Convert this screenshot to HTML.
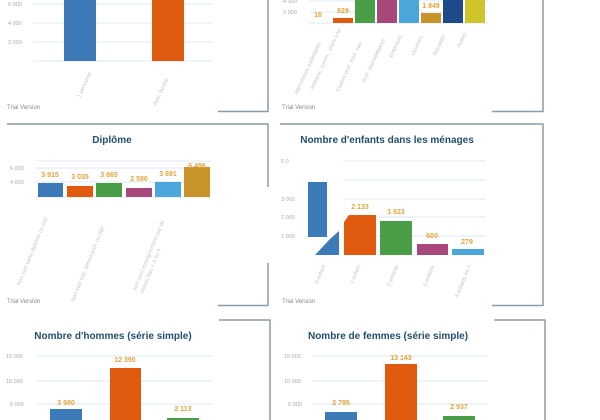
<!DOCTYPE html>
<html><head><meta charset="utf-8"><style>
html,body{margin:0;padding:0;background:#fff;}
svg{display:block;font-family:"Liberation Sans",sans-serif;}
.t{font-weight:bold;fill:#234f6e;font-size:10px;text-anchor:middle}
.ax{fill:#aaa;font-size:5.5px}
.v{fill:#e3a43a;font-size:7px;font-weight:bold;text-anchor:middle}
.r{fill:#c4c4c4;font-size:5.5px}
.tv{fill:#888;font-size:6px}
.g{stroke:#dceaf3;stroke-width:1}
.b{stroke:#8b9ba7;stroke-width:1.5;fill:none}
</style></head><body>
<svg width="600" height="420" viewBox="0 0 600 420">
<!-- borders -->
<path class="b" d="M268 0V112M218 111.5H268"/>
<path class="b" d="M543 0V112M492 111.5H543"/>
<path class="b" d="M7 124H268V187M268 263V306M218 305.5H268"/>
<path class="b" d="M280 124H543V306M492 305.5H543"/>
<path class="b" d="M219 320H270V420"/>
<path class="b" d="M494 320H545V420"/>

<!-- top-left -->
<g class="g"><line x1="33" y1="4" x2="212" y2="4"/><line x1="33" y1="23" x2="212" y2="23"/><line x1="33" y1="42" x2="212" y2="42"/><line x1="33" y1="61" x2="212" y2="61"/></g>
<text class="ax" x="8" y="6">6 000</text><text class="ax" x="8" y="25">4 000</text><text class="ax" x="8" y="44">2 000</text>
<rect x="64" y="0" width="32" height="61" fill="#3d7ab8"/>
<rect x="152" y="0" width="32" height="61" fill="#e05a0f"/>
<text class="r" transform="translate(80,98) rotate(-65)">1 personne</text>
<text class="r" transform="translate(156,106) rotate(-65)">Avec famille</text>
<text class="tv" x="7" y="109">Trial Version</text>

<!-- top-right -->
<g class="g"><line x1="310" y1="1" x2="488" y2="1"/><line x1="310" y1="12" x2="488" y2="12"/><line x1="310" y1="23" x2="488" y2="23"/></g>
<text class="ax" x="283" y="3">4 000</text><text class="ax" x="283" y="14">2 000</text>
<rect x="333" y="18" width="20" height="5" fill="#e05a0f"/>
<rect x="355" y="0" width="20" height="23" fill="#4a9e48"/>
<rect x="377" y="0" width="20" height="23" fill="#a8487a"/>
<rect x="399" y="0" width="20" height="23" fill="#4ba6dc"/>
<rect x="421" y="13" width="20" height="10" fill="#c8942a"/>
<rect x="443" y="0" width="20" height="23" fill="#1f4a8a"/>
<rect x="465" y="0" width="20" height="23" fill="#cfc52a"/>
<text class="v" x="318" y="17">16</text><text class="v" x="343" y="13">829</text><text class="v" x="431" y="8">1 849</text>
<g class="r">
<text transform="translate(297,95) rotate(-65)">Agriculteurs exploitants</text>
<text transform="translate(313,90) rotate(-65)">Artisans, comm., chefs entr.</text>
<text transform="translate(339,92) rotate(-65)">Cadres prof. intel. sup.</text>
<text transform="translate(365,83) rotate(-65)">Prof. intermédiaires</text>
<text transform="translate(392,58) rotate(-65)">Employés</text>
<text transform="translate(414,56) rotate(-65)">Ouvriers</text>
<text transform="translate(436,56) rotate(-65)">Retraités</text>
<text transform="translate(460,48) rotate(-65)">Autres</text>
</g>
<text class="tv" x="282" y="109">Trial Version</text>

<!-- Diplome -->
<text class="t" x="112" y="143">Diplôme</text>
<g class="g"><line x1="36" y1="161" x2="211" y2="161"/><line x1="36" y1="168" x2="211" y2="168"/><line x1="36" y1="182" x2="211" y2="182"/><line x1="36" y1="197" x2="211" y2="197"/></g>
<text class="ax" x="10" y="170">6 000</text><text class="ax" x="10" y="184">4 000</text>
<rect x="38" y="183" width="25" height="14" fill="#3d7ab8"/>
<rect x="67" y="186" width="26" height="11" fill="#e05a0f"/>
<rect x="96" y="183" width="26" height="14" fill="#4a9e48"/>
<rect x="126" y="188" width="26" height="9" fill="#a8487a"/>
<rect x="155" y="182" width="26" height="15" fill="#4ba6dc"/>
<rect x="184" y="167" width="26" height="30" fill="#c8942a"/>
<text class="v" x="50" y="177">3 915</text><text class="v" x="80" y="179">3 035</text><text class="v" x="109" y="177">3 865</text><text class="v" x="139" y="181">2 580</text><text class="v" x="168" y="176">3 891</text><text class="v" x="197" y="168">6 496</text>
<g class="r">
<text transform="translate(20,286) rotate(-68)">Non scol sans diplôme ou cep</text>
<text transform="translate(74,302) rotate(-68)">Non scol bac, brevet prof. ou dipl.</text>
<text transform="translate(136,291) rotate(-68)">Non scol enseignement sup de</text>
<text transform="translate(143,294) rotate(-68)">niveau bac + 3 ou 4</text>
</g>
<text class="tv" x="7" y="303">Trial Version</text>

<!-- enfants -->
<text class="t" x="387" y="143">Nombre d'enfants dans les ménages</text>
<g class="g"><line x1="344" y1="161" x2="486" y2="161"/><line x1="344" y1="180" x2="486" y2="180"/><line x1="344" y1="199" x2="486" y2="199"/><line x1="344" y1="217" x2="486" y2="217"/><line x1="344" y1="236" x2="486" y2="236"/></g>
<text class="ax" x="281" y="163">5 0</text><text class="ax" x="281" y="201">3 000</text><text class="ax" x="281" y="219">2 000</text><text class="ax" x="281" y="238">1 000</text>
<rect x="308" y="182" width="19" height="55" fill="#3d7ab8"/>
<polygon points="315,255 330,239 339,231 339,255" fill="#3d7ab8"/>
<polygon points="349,215 376,215 376,255 344,255 344,222" fill="#e05a0f"/>
<rect x="380" y="221" width="32" height="34" fill="#4a9e48"/>
<rect x="417" y="244" width="31" height="11" fill="#a8487a"/>
<rect x="452" y="249" width="32" height="6" fill="#4ba6dc"/>
<text class="v" x="360" y="209">2 133</text><text class="v" x="396" y="214">1 823</text><text class="v" x="432" y="238">600</text><text class="v" x="467" y="244">279</text>
<g class="r">
<text transform="translate(318,284) rotate(-68)">0 enfant</text>
<text transform="translate(353,284) rotate(-68)">1 enfant</text>
<text transform="translate(390,287) rotate(-68)">2 enfants</text>
<text transform="translate(426,287) rotate(-68)">3 enfants</text>
<text transform="translate(458,298) rotate(-68)">4 enfants ou +</text>
</g>
<text class="tv" x="282" y="303">Trial Version</text>

<!-- hommes -->
<text class="t" x="113" y="339">Nombre d'hommes (série simple)</text>
<g class="g"><line x1="37" y1="356" x2="212" y2="356"/><line x1="37" y1="381" x2="212" y2="381"/><line x1="37" y1="404" x2="212" y2="404"/></g>
<text class="ax" x="6" y="358">15 000</text><text class="ax" x="6" y="383">10 000</text><text class="ax" x="10" y="406">5 000</text>
<rect x="50" y="409" width="32" height="11" fill="#3d7ab8"/>
<rect x="110" y="368" width="31" height="52" fill="#e05a0f"/>
<rect x="167" y="418" width="32" height="2" fill="#4a9e48"/>
<text class="v" x="66" y="405">3 980</text><text class="v" x="125" y="362">12 390</text><text class="v" x="183" y="411">2 113</text>

<!-- femmes -->
<text class="t" x="388" y="339">Nombre de femmes (série simple)</text>
<g class="g"><line x1="312" y1="356" x2="488" y2="356"/><line x1="312" y1="381" x2="488" y2="381"/><line x1="312" y1="404" x2="488" y2="404"/></g>
<text class="ax" x="284" y="358">15 000</text><text class="ax" x="284" y="383">10 000</text><text class="ax" x="288" y="406">5 000</text>
<rect x="325" y="412" width="32" height="8" fill="#3d7ab8"/>
<rect x="385" y="364" width="32" height="56" fill="#e05a0f"/>
<rect x="443" y="416" width="32" height="4" fill="#4a9e48"/>
<text class="v" x="341" y="405">2 795</text><text class="v" x="401" y="360">13 143</text><text class="v" x="459" y="409">2 937</text>
</svg>
</body></html>
